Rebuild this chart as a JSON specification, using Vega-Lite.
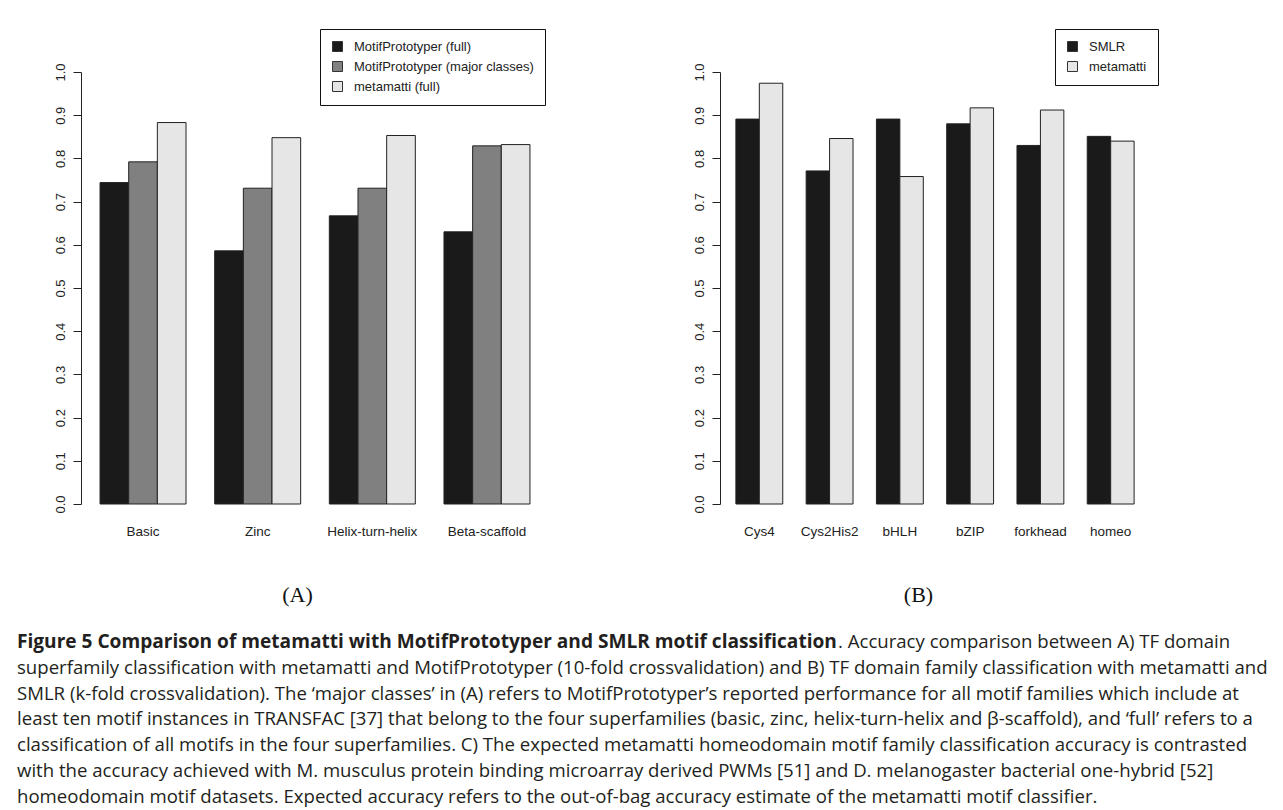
{
  "$schema": "https://vega.github.io/schema/vega-lite/v6.json",
  "background": "white",
  "padding": {"left": 17, "top": 28, "right": 0, "bottom": 0},
  "autosize": {"type": "pad"},
  "config": {
    "view": {"stroke": null},
    "font": "Liberation Sans",
    "scale": {"offsetBandPaddingInner": 0, "offsetBandPaddingOuter": 0},
    "axis": {"labelFont": "Liberation Sans", "labelFontSize": 13, "labelColor": "#222", "domainColor": "#222", "tickColor": "#222", "grid": false},
    "legend": {
      "orient": "none", "title": null, "strokeColor": "#111", "fillColor": "white", "padding": 11,
      "symbolType": "square", "symbolSize": 100, "symbolStrokeWidth": 1, "symbolStrokeColor": "#333",
      "labelFont": "Liberation Sans", "labelFontSize": 13, "labelColor": "#222", "rowPadding": 5, "labelOffset": 10, "labelLimit": 400
    },
    "bar": {"stroke": "#222", "strokeWidth": 1}
  },
  "title": {
    "text": "Figure 5 Comparison of metamatti with MotifPrototyper and SMLR motif classification",
    "subtitle": [
      "superfamily classification with metamatti and MotifPrototyper (10-fold crossvalidation) and B) TF domain family classification with metamatti and",
      "SMLR (k-fold crossvalidation). The ‘major classes’ in (A) refers to MotifPrototyper’s reported performance for all motif families which include at",
      "least ten motif instances in TRANSFAC [37] that belong to the four superfamilies (basic, zinc, helix-turn-helix and β-scaffold), and ‘full’ refers to a",
      "classification of all motifs in the four superfamilies. C) The expected metamatti homeodomain motif family classification accuracy is contrasted",
      "with the accuracy achieved with M. musculus protein binding microarray derived PWMs [51] and D. melanogaster bacterial one-hybrid [52]",
      "homeodomain motif datasets. Expected accuracy refers to the out-of-bag accuracy estimate of the metamatti motif classifier."
    ],
    "orient": "bottom", "anchor": "start", "frame": "bounds", "dx": -37, "offset": -18.9,
    "font": "Open Sans", "fontSize": 19.1, "fontWeight": "bold", "color": "#231f20",
    "subtitleFont": "Open Sans", "subtitleFontSize": 18.6, "subtitleColor": "#231f20", "subtitleLineHeight": 25.7, "subtitlePadding": 7.3
  },
  "vconcat": [
    {
      "title": {
        "text": ". Accuracy comparison between A) TF domain",
        "orient": "bottom", "anchor": "start", "frame": "bounds", "dx": 784, "offset": 28,
        "font": "Open Sans", "fontSize": 18.6, "fontWeight": "normal", "color": "#231f20"
      },
      "spacing": 144,
      "resolve": {"scale": {"color": "independent", "x": "independent", "xOffset": "independent"}, "legend": {"color": "independent"}},
      "hconcat": [
        {
          "width": 468,
          "height": 432,
          "data": {"values": [
            {"group": "Basic", "method": "MotifPrototyper (full)", "value": 0.744},
            {"group": "Basic", "method": "MotifPrototyper (major classes)", "value": 0.792},
            {"group": "Basic", "method": "metamatti (full)", "value": 0.883},
            {"group": "Zinc", "method": "MotifPrototyper (full)", "value": 0.586},
            {"group": "Zinc", "method": "MotifPrototyper (major classes)", "value": 0.731},
            {"group": "Zinc", "method": "metamatti (full)", "value": 0.848},
            {"group": "Helix-turn-helix", "method": "MotifPrototyper (full)", "value": 0.667},
            {"group": "Helix-turn-helix", "method": "MotifPrototyper (major classes)", "value": 0.731},
            {"group": "Helix-turn-helix", "method": "metamatti (full)", "value": 0.853},
            {"group": "Beta-scaffold", "method": "MotifPrototyper (full)", "value": 0.630},
            {"group": "Beta-scaffold", "method": "MotifPrototyper (major classes)", "value": 0.829},
            {"group": "Beta-scaffold", "method": "metamatti (full)", "value": 0.832}
          ]},
          "mark": {"type": "bar"},
          "encoding": {
            "x": {
              "field": "group", "type": "nominal",
              "sort": ["Basic", "Zinc", "Helix-turn-helix", "Beta-scaffold"],
              "scale": {"paddingInner": 0.25, "paddingOuter": 0.166},
              "axis": {"title": "(A)", "domain": false, "ticks": false, "tickSize": 0, "labelPadding": 20, "labelAngle": 0, "labelFontSize": 13.5,
                       "titleFont": "Liberation Serif", "titleFontSize": 22, "titleFontWeight": "normal", "titleColor": "#111",
                       "titleX": 216, "titleY": 90, "titleAlign": "center", "titleBaseline": "middle", "titleAnchor": null}
            },
            "xOffset": {"field": "method", "type": "nominal",
              "sort": ["MotifPrototyper (full)", "MotifPrototyper (major classes)", "metamatti (full)"],
              "scale": {"paddingInner": 0, "paddingOuter": 0}},
            "y": {
              "field": "value", "type": "quantitative",
              "scale": {"domain": [0, 1], "nice": false, "zero": true},
              "axis": {"title": null, "values": [0, 0.1, 0.2, 0.3, 0.4, 0.5, 0.6, 0.7, 0.8, 0.9, 1.0], "format": ".1f",
                       "labelAngle": 270, "labelAlign": "center", "labelBaseline": "alphabetic", "labelPadding": 9, "tickSize": 8}
            },
            "color": {
              "field": "method", "type": "nominal",
              "scale": {"domain": ["MotifPrototyper (full)", "MotifPrototyper (major classes)", "metamatti (full)"],
                        "range": ["#1a1a1a", "#808080", "#e6e6e6"]},
              "legend": {"legendX": 239, "legendY": -43}
            }
          }
        },
        {
          "width": 430,
          "height": 432,
          "data": {"values": [
            {"family": "Cys4", "method": "SMLR", "value": 0.891},
            {"family": "Cys4", "method": "metamatti", "value": 0.974},
            {"family": "Cys2His2", "method": "SMLR", "value": 0.771},
            {"family": "Cys2His2", "method": "metamatti", "value": 0.846},
            {"family": "bHLH", "method": "SMLR", "value": 0.891},
            {"family": "bHLH", "method": "metamatti", "value": 0.758},
            {"family": "bZIP", "method": "SMLR", "value": 0.880},
            {"family": "bZIP", "method": "metamatti", "value": 0.917},
            {"family": "forkhead", "method": "SMLR", "value": 0.830},
            {"family": "forkhead", "method": "metamatti", "value": 0.912},
            {"family": "homeo", "method": "SMLR", "value": 0.851},
            {"family": "homeo", "method": "metamatti", "value": 0.840}
          ]},
          "mark": {"type": "bar"},
          "encoding": {
            "x": {
              "field": "family", "type": "nominal",
              "sort": ["Cys4", "Cys2His2", "bHLH", "bZIP", "forkhead", "homeo"],
              "scale": {"paddingInner": 0.333, "paddingOuter": 0.226},
              "axis": {"title": "(B)", "domain": false, "ticks": false, "tickSize": 0, "labelPadding": 20, "labelAngle": 0, "labelFontSize": 13.5,
                       "titleFont": "Liberation Serif", "titleFontSize": 22, "titleFontWeight": "normal", "titleColor": "#111",
                       "titleX": 198, "titleY": 90, "titleAlign": "center", "titleBaseline": "middle", "titleAnchor": null}
            },
            "xOffset": {"field": "method", "type": "nominal",
              "sort": ["SMLR", "metamatti"],
              "scale": {"paddingInner": 0, "paddingOuter": 0}},
            "y": {
              "field": "value", "type": "quantitative",
              "scale": {"domain": [0, 1], "nice": false, "zero": true},
              "axis": {"title": null, "values": [0, 0.1, 0.2, 0.3, 0.4, 0.5, 0.6, 0.7, 0.8, 0.9, 1.0], "format": ".1f",
                       "labelAngle": 270, "labelAlign": "center", "labelBaseline": "alphabetic", "labelPadding": 9, "tickSize": 8}
            },
            "color": {
              "field": "method", "type": "nominal",
              "scale": {"domain": ["SMLR", "metamatti"], "range": ["#1a1a1a", "#e6e6e6"]},
              "legend": {"legendX": 335, "legendY": -43}
            }
          }
        }
      ]
    }
  ]
}
